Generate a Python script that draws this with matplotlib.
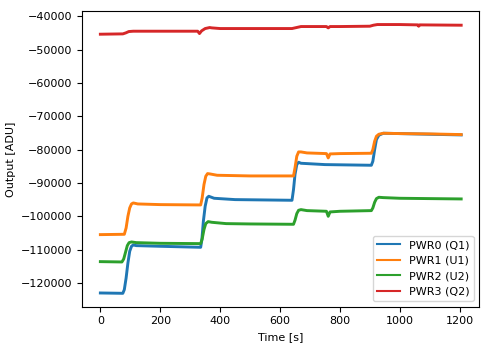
import matplotlib
matplotlib.use("Agg")
import matplotlib.pyplot as plt

matplotlib.rcParams['font.size'] = 8

# Detector outputs during the heater power steps, (time [s], output [ADU])
t_pwr0 = [0, 75, 80, 86, 92, 98, 104, 110, 120, 200, 335, 339, 344, 350, 356, 362,
          380, 450, 640, 645, 650, 656, 662, 670, 750, 905, 910, 916, 922, 930,
          945, 1000, 1100, 1205]
v_pwr0 = [-123000, -123100, -122000, -118500, -114000, -110500, -109000, -108600,
          -108800, -109000, -109300, -107000, -101500, -97000, -94500, -94000,
          -94600, -95000, -95200, -92000, -87500, -84500, -83800, -84100, -84500,
          -84700, -83500, -80000, -77000, -75700, -75100, -75200, -75400, -75600]

t_pwr1 = [0, 80, 86, 92, 98, 104, 110, 125, 200, 335, 340, 346, 352, 358, 366,
          390, 500, 645, 650, 656, 662, 670, 690, 755, 761, 767, 800, 905, 910,
          916, 922, 930, 945, 1000, 1100, 1205]
v_pwr1 = [-105500, -105400, -103500, -100000, -97500, -96300, -96000, -96300,
          -96500, -96600, -94500, -90500, -88000, -87200, -87300, -87700, -87900,
          -87900, -85500, -82000, -80700, -80700, -81000, -81200, -82500, -81300,
          -81200, -81100, -80000, -77500, -76000, -75400, -75100, -75200, -75300,
          -75500]

t_pwr2 = [0, 72, 78, 84, 90, 96, 104, 120, 200, 335, 340, 346, 352, 360, 372,
          420, 500, 645, 650, 656, 662, 670, 690, 755, 761, 767, 800, 905, 910,
          916, 922, 930, 945, 1000, 1100, 1205]
v_pwr2 = [-113600, -113700, -112800, -110800, -108800, -107900, -107700, -107900,
          -108100, -108200, -106800, -104000, -102200, -101600, -101800, -102200,
          -102300, -102400, -101200, -99200, -98200, -98000, -98300, -98500,
          -100000, -98700, -98500, -98300, -97500, -95800, -94700, -94300, -94400,
          -94600, -94700, -94800]

t_pwr3 = [0, 75, 85, 95, 110, 200, 325, 331, 338, 350, 365, 372, 400, 500, 640,
          655, 670, 700, 755, 761, 767, 800, 900, 912, 925, 1000, 1060, 1063,
          1066, 1205]
v_pwr3 = [-45400, -45300, -45000, -44600, -44500, -44500, -44500, -45200, -44400,
          -43700, -43400, -43500, -43700, -43700, -43700, -43400, -43100, -43100,
          -43100, -43500, -43100, -43100, -43000, -42700, -42500, -42500, -42600,
          -43000, -42600, -42700]

labels = ["PWR0 (Q1)", "PWR1 (U1)", "PWR2 (U2)", "PWR3 (Q2)"]

fig = plt.figure(figsize=(4.9, 3.47), dpi=100)
ax = fig.add_axes([0.168, 0.116, 0.810, 0.852])

for t, v, lab in zip([t_pwr0, t_pwr1, t_pwr2, t_pwr3],
                     [v_pwr0, v_pwr1, v_pwr2, v_pwr3], labels):
    ax.plot(t, v, lw=2.1, label=lab)

ax.set_xlabel("Time [s]")
ax.set_ylabel("Output [ADU]")
leg = ax.legend(loc="lower right")
for h in leg.get_lines():
    h.set_linewidth(1.5)

fig.savefig("out.png", dpi=100)
